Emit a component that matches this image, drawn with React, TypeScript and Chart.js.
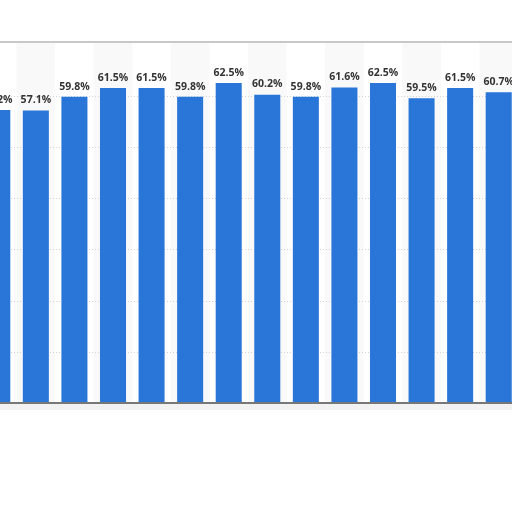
import { useEffect, useRef } from "react"
import { Chart, registerables } from "chart.js"

Chart.register(...registerables)

// category labels are blurred out in the reference, so they stay hidden
const categories = ["2010", "2011", "2012", "2013", "2014", "2015", "2016", "2017", "2018", "2019", "2020", "2021", "2022", "2023"]
const shares = [57.2, 57.1, 59.8, 61.5, 61.5, 59.8, 62.5, 60.2, 59.8, 61.6, 62.5, 59.5, 61.5, 60.7]
const yTicks = [10, 20, 30, 40, 50, 60]

const backdrop = {
  id: "backdrop",
  beforeDatasetsDraw(chart: Chart) {
    const { ctx, chartArea, scales } = chart
    const x = scales.x
    const y = scales.y
    ctx.save()
    // alternating column bands
    const step = (chartArea.right - chartArea.left) / categories.length
    categories.forEach((_, i) => {
      if (i % 2 === 1) {
        const cx = x.getPixelForValue(i)
        ctx.fillStyle = "#f9f9f9"
        ctx.fillRect(cx - step / 2, chartArea.top, step, chartArea.bottom - chartArea.top)
      }
    })
    // dotted grid lines
    ctx.strokeStyle = "#d2d2d2"
    ctx.lineWidth = 1
    ctx.setLineDash([1, 2])
    yTicks.forEach((v) => {
      const py = Math.round(y.getPixelForValue(v)) + 0.5
      ctx.beginPath()
      ctx.moveTo(chartArea.left, py)
      ctx.lineTo(chartArea.right, py)
      ctx.stroke()
    })
    ctx.setLineDash([])
    // top border
    ctx.strokeStyle = "#c8c8c8"
    ctx.lineWidth = 2
    ctx.beginPath()
    ctx.moveTo(chartArea.left, chartArea.top)
    ctx.lineTo(chartArea.right, chartArea.top)
    ctx.stroke()
    ctx.restore()
  },
  afterDatasetsDraw(chart: Chart) {
    const { ctx, chartArea, scales } = chart
    const y = scales.y
    ctx.save()
    // baseline with soft shadow
    const base = y.getPixelForValue(0)
    ctx.fillStyle = "rgba(0,0,0,0.05)"
    ctx.fillRect(chartArea.left, base + 1, chartArea.right - chartArea.left, 6)
    ctx.strokeStyle = "#777777"
    ctx.lineWidth = 2
    ctx.beginPath()
    ctx.moveTo(chartArea.left, base)
    ctx.lineTo(chartArea.right, base)
    ctx.stroke()
    // value labels
    const meta = chart.getDatasetMeta(0)
    ctx.fillStyle = "#333333"
    ctx.font = "bold 10.5px 'Open Sans'"
    ctx.textAlign = "center"
    ctx.textBaseline = "bottom"
    meta.data.forEach((bar, i) => {
      ctx.fillText(shares[i].toFixed(1) + "%", bar.x, bar.y - 5)
    })
    ctx.restore()
  },
}

export default function App() {
  const chartRef = useRef<HTMLCanvasElement>(null)
  const chartInstance = useRef<Chart | null>(null)

  useEffect(() => {
    if (!chartRef.current) return
    if (chartInstance.current) chartInstance.current.destroy()
    const ctx = chartRef.current.getContext("2d")
    if (!ctx) return

    chartInstance.current = new Chart(ctx, {
      type: "bar",
      data: {
        labels: categories,
        datasets: [
          {
            data: shares,
            backgroundColor: "#2a76d8",
            barPercentage: 0.675,
            categoryPercentage: 1,
          },
        ],
      },
      options: {
        animation: false,
        responsive: false,
        maintainAspectRatio: false,
        layout: { padding: { left: 0, right: 0, top: 42, bottom: 109 } },
        plugins: { legend: { display: false }, tooltip: { enabled: false } },
        scales: {
          x: { display: false },
          y: { display: false, min: 0, max: 70.5 },
        },
      },
      plugins: [backdrop],
    })

    return () => {
      if (chartInstance.current) {
        chartInstance.current.destroy()
        chartInstance.current = null
      }
    }
  }, [])

  return (
    <div style={{ position: "fixed", left: 0, top: 0, width: 512, height: 512, overflow: "hidden", background: "#fff" }}>
      <canvas ref={chartRef} width={540} height={512} style={{ position: "absolute", left: -22, top: 0, width: 540, height: 512 }}></canvas>
    </div>
  )
}
